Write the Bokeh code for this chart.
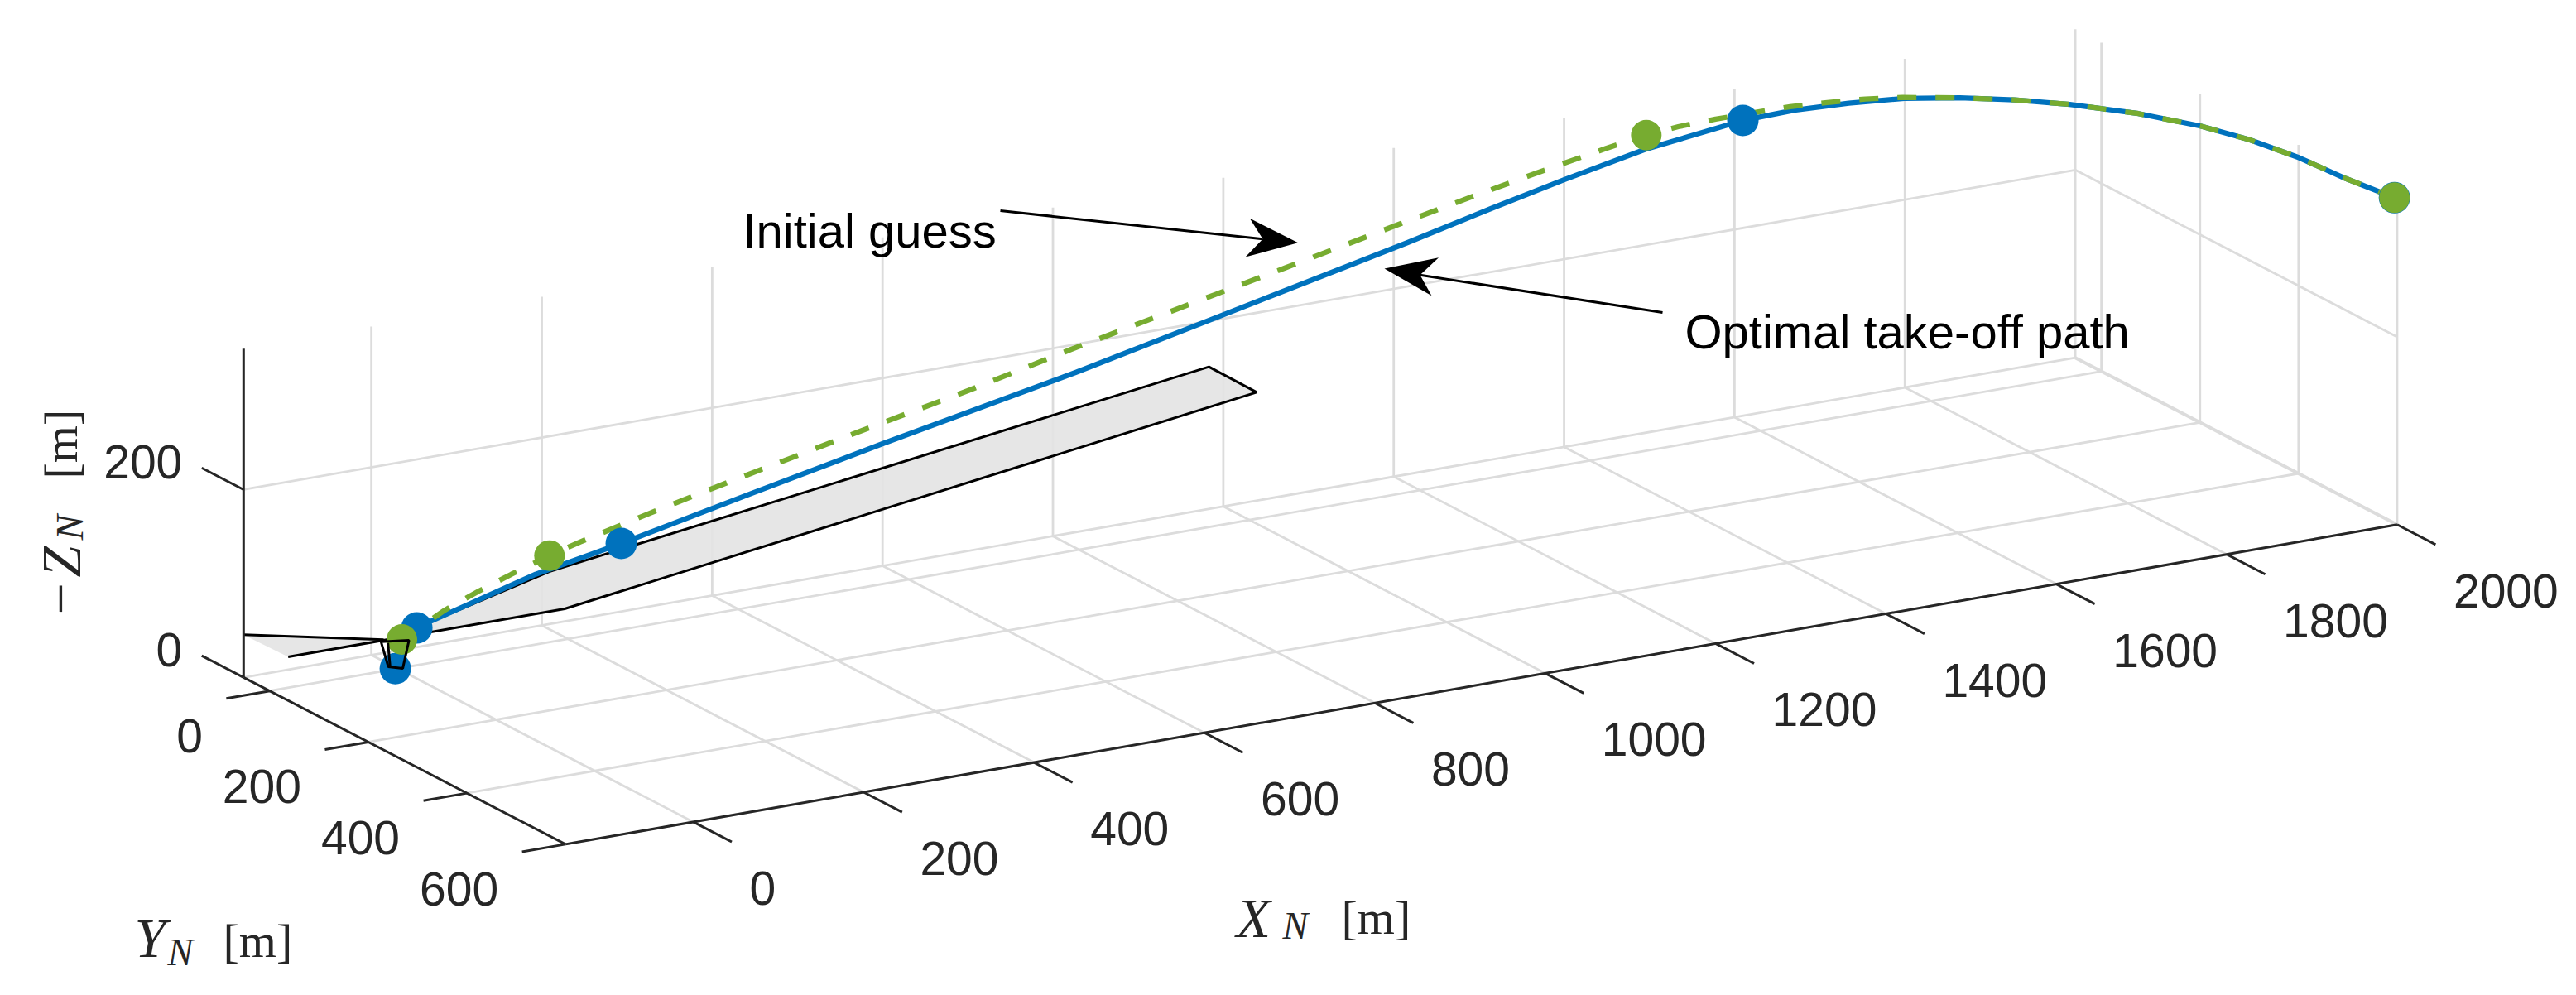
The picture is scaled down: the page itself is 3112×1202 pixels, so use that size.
from bokeh.plotting import figure
from bokeh.models import Range1d
from bokeh.core.properties import value
from bokeh.embed import file_html
from bokeh.resources import INLINE
import numpy as np

# ---- data (metres) ----
blue_x = [-2,19.3,33.3,138.2,223.8,347.9,486.2,679.2,825.7,954.9,1010.3,1093.1,1166.8,1247.7,1345.6,1396.9,1451.5,1507,1562.5,1617.2,1672.6,1741.3,1803.4,1852.3,1902,1948.3,1997.3]
blue_y = [-1,5.8,10,41.5,67.1,104.4,145.9,203.8,247.7,286.5,303.1,327.9,350,374.3,403.7,419.1,435.5,452.1,468.8,485.2,501.8,522.4,541,555.7,570.6,584.5,599.2]
blue_z = [0,41.9,47.9,89.9,116.1,157.5,202.7,263.7,313.4,357.4,376.3,405.9,431.2,457.3,480.7,487.6,491,491.8,488.1,481.8,472.7,457.6,439.6,421.3,398.3,372.7,348.4]
green_x = [4.4,47.2,80.3,113.9,152,182.4,252.7,323.1,463.8,571.5,673.3,818.2,888.6,995.4,1065.8,1137,1208.2,1249,1281,1318.3,1393,1430.1,1468.1,1505.4,1562.5,1617.2,1672.6,1741.3,1803.4,1852.3,1902,1948.3,1997.3]
green_y = [1.3,14.2,24.1,34.2,45.6,54.7,75.8,96.9,139.1,171.5,202,245.5,266.6,298.6,319.7,341.1,362.5,374.7,384.3,395.5,417.9,429,440.4,451.6,468.8,485.2,501.8,522.4,541,555.7,570.6,584.5,599.2]
green_z = [30.7,58.6,75.8,91.8,108.7,120.8,146.3,170.5,217.7,252.6,288.2,335.9,359,394.4,417.4,439.8,461.2,472.4,479,484.2,491.7,493.3,494.1,492.9,488.1,481.8,472.7,457.6,439.6,421.3,398.3,372.7,348.4]
blue_mark_x = [-2,19.3,223.8,1345.6,1997.3]
blue_mark_y = [-1,5.8,67.1,403.7,599.2]
blue_mark_z = [0,41.9,116.1,480.7,348.4]
green_mark_x = [4.4,152,1249,1997.3]
green_mark_y = [1.3,45.6,374.7,599.2]
green_mark_z = [30.7,108.7,472.4,348.4]
runway_x = [-78,37,88.8,297.6,1223.8,1222.7,248,-76]
runway_y = [-178,-92,-111,-206.6,-469,-370.3,-89.6,-90.5]
tube_x = [31,-5,5,58]
tube_y = [-87,-10,2,-77]
tube_inner_x = [35,-4]
tube_inner_y = [-80,-8]
x_ticks = [0,200,400,600,800,1000,1200,1400,1600,1800,2000]
y_ticks = [0,200,400,600]
z_ticks = [0,200]
XMIN, XMAX, YMIN, YMAX, ZMAX = -150, 2000, -53, 600, 350

# ---- orthographic view of the MATLAB-style 3-D box ----
O = np.array([293.8, 817.8])
EX = np.array([1.0292, -0.1796])
EY = np.array([0.5955, 0.3087])
EZ = np.array([0.0, -1.1342])

def proj(x, y, z=0):
    x, y, z = np.broadcast_arrays(np.asarray(x, float), np.asarray(y, float), np.asarray(z, float))
    sx = O[0] + (x - XMIN) * EX[0] + (y - YMIN) * EY[0] + z * EZ[0]
    sy = O[1] + (x - XMIN) * EX[1] + (y - YMIN) * EY[1] + z * EZ[1]
    return sx.tolist(), sy.tolist()

p = figure(width=3096, height=1186, x_range=Range1d(0, 3096), y_range=Range1d(1186, 0),
           x_axis_type=None, y_axis_type=None, toolbar_location=None, output_backend="svg",
           min_border=0, outline_line_color=None, background_fill_color="white")
p.grid.visible = False

GRID = "#DCDCDC"
AXC = "#262626"
def seg(a, b, color=GRID, w=2.8):
    xs, ys = proj([a[0], b[0]], [a[1], b[1]], [a[2], b[2]])
    p.line(xs, ys, line_color=color, line_width=w)

for X in x_ticks:
    seg((X, YMIN, 0), (X, YMAX, 0))
    seg((X, YMIN, 0), (X, YMIN, ZMAX))
for Y in y_ticks:
    seg((XMIN, Y, 0), (XMAX, Y, 0))
    seg((XMAX, Y, 0), (XMAX, Y, ZMAX))
seg((XMIN, YMIN, 0), (XMAX, YMIN, 0))
seg((XMAX, YMIN, 0), (XMAX, YMAX, 0), w=4)
seg((XMIN, YMIN, 200), (XMAX, YMIN, 200))
seg((XMAX, YMIN, 200), (XMAX, YMAX, 200))

# runway
rx, ry = proj(runway_x, runway_y)
p.patch(rx, ry, fill_color="#E3E3E3", fill_alpha=0.9, line_color=None)
p.line(rx[:2], ry[:2], line_color="black", line_width=3)
p.line(rx[2:], ry[2:], line_color="black", line_width=3)

# paths
bx, by = proj(blue_x, blue_y, blue_z)
gx, gy = proj(green_x, green_y, green_z)
p.line(bx, by, line_color="#0072BD", line_width=6.3, line_join="round")
p.line(gx, gy, line_color="#77AC30", line_width=6.3, line_dash="23 23", line_join="round")
mx, my = proj(blue_mark_x, blue_mark_y, blue_mark_z)
p.scatter(mx, my, size=38, fill_color="#0072BD", line_color=None)
mx, my = proj(green_mark_x, green_mark_y, green_mark_z)
p.scatter(mx, my, size=37, fill_color="#77AC30", line_color=None)

# small black outline at the start
tx, ty = proj(tube_x, tube_y)
p.line(tx + tx[:1], ty + ty[:1], line_color="black", line_width=3)
tx, ty = proj(tube_inner_x, tube_inner_y)
p.line(tx, ty, line_color="black", line_width=3)

# axes
seg((XMIN, YMIN, 0), (XMIN, YMIN, ZMAX), AXC, 3)
seg((XMIN, YMIN, 0), (XMIN, YMAX, 0), AXC, 3)
seg((XMIN, YMAX, 0), (XMAX, YMAX, 0), AXC, 3)
for X in x_ticks:
    seg((X, YMAX, 0), (X, YMAX + 78, 0), AXC, 3)
for Y in y_ticks:
    seg((XMIN, Y, 0), (XMIN - 51, Y, 0), AXC, 3)
for Z in z_ticks:
    seg((XMIN, YMIN, Z), (XMIN, YMIN - 85, Z), AXC, 3)

FS = value("57px")
SANS = value("Liberation Sans")
SERIF = value("Liberation Serif")
def txt(x, y, s, size=FS, font=SANS, color=AXC, align="left", base="middle", style="normal", angle=0):
    p.text([x], [y], text=[s], text_font=font, text_font_size=size, text_color=color,
           text_align=align, text_baseline=base, text_font_style=style, angle=angle)

sx, sy = proj(x_ticks, [YMAX] * len(x_ticks))
for a, b, t in zip(sx, sy, x_ticks):
    txt(a + 68, b + 80, str(t))
sx, sy = proj([XMIN] * len(y_ticks), y_ticks)
for a, b, t in zip(sx, sy, y_ticks):
    txt(a - 81, b + 54, str(t), align="right")
sx, sy = proj([XMIN] * len(z_ticks), [YMIN] * len(z_ticks), z_ticks)
for a, b, t in zip(sx, sy, z_ticks):
    txt(a - 74, b - 33, str(t), align="right")

# axis titles
S1, S2, S3 = value("68px"), value("46px"), value("58px")
txt(1493, 1108, "X", S1, SERIF, AXC, style="italic", base="alphabetic")
txt(1549, 1118, "N", S2, SERIF, AXC, style="italic", base="alphabetic")
txt(1620, 1108, "[m]", S3, SERIF, AXC, base="alphabetic")
txt(162, 1132, "Y", S1, SERIF, AXC, style="italic")
txt(202, 1150, "N", S2, SERIF, AXC, style="italic")
txt(269, 1136, "[m]", S3, SERIF, AXC)
R = np.pi / 2
txt(73, 742, "\u2212", S1, SERIF, AXC, base="alphabetic", angle=R)
txt(73, 697, "Z", S1, SERIF, AXC, style="italic", base="alphabetic", angle=R)
txt(84, 652, "N", S2, SERIF, AXC, style="italic", base="alphabetic", angle=R)
txt(73, 578, "[m]", S3, SERIF, AXC, base="alphabetic", angle=R)

# annotations
A = value("58px")
txt(897, 278, "Initial guess", A, SANS, "black", base="alphabetic")
txt(2035, 399.5, "Optimal take-off path", A, SANS, "black", base="alphabetic")

def arrow(tail, notch, tip, b1, b2):
    p.line([tail[0], notch[0]], [tail[1], notch[1]], line_color="black", line_width=3)
    p.patch([tip[0], b1[0], notch[0], b2[0]], [tip[1], b1[1], notch[1], b2[1]],
            fill_color="black", line_color=None)
arrow((1208, 254), (1525, 288.3), (1567.7, 292.7), (1509.3, 263.3), (1504, 310))
arrow((2008, 377), (1715, 331.7), (1672, 324), (1737.5, 310.7), (1729, 356.7))

open("out.html", "w").write(file_html(p, INLINE))
